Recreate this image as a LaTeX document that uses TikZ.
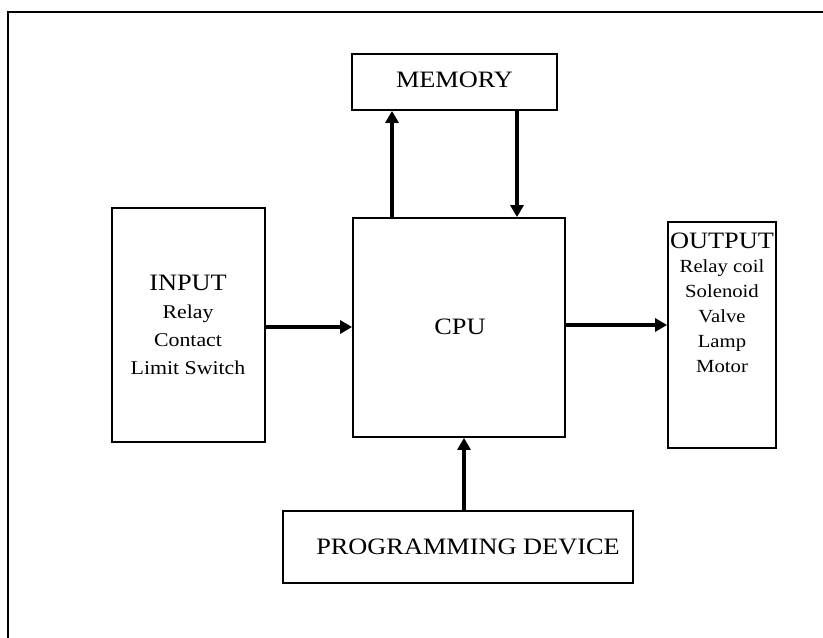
\documentclass[tikz,border=0pt]{standalone}
\usepackage{fontspec}
\setmainfont{Liberation Serif}[FakeStretch=1.12]
\usetikzlibrary{arrows.meta}
\begin{document}
\begin{tikzpicture}[x=1pt,y=-1pt,
  blk/.style={draw=black,line width=1.8pt,inner sep=0pt,fill=white},
  conn/.style={line width=3.5pt,-{Triangle[length=12pt,width=13pt]}},
  big/.style={font=\fontsize{23.5}{28}\selectfont},
  sub/.style={align=center,anchor=north}]
\useasboundingbox (0,0) rectangle (823,638);
\draw[line width=2pt] (823,12) -- (8,12) -- (8,638);
% boxes
\node[blk,minimum width=205pt,minimum height=56pt] (mem) at (454.5,82) {};
\node[big] (memt) at (454.5,80) {MEMORY};
\node[blk,minimum width=212pt,minimum height=219pt] (cpu) at (459,327.5) {};
\node[big] (cput) at (460,327) {CPU};
\node[blk,minimum width=153pt,minimum height=234pt] (inp) at (188.5,325) {};
\node[big] (inpt) at (188,283) {INPUT};
\node[sub,font=\fontsize{19.5}{28}\selectfont] (inps) at (188,301) {Relay\\Contact\\Limit Switch};
\node[blk,minimum width=108pt,minimum height=226pt] (out) at (722,335) {};
\node[big] (outt) at (722,241) {OUTPUT};
\node[sub,font=\fontsize{18.5}{25}\selectfont] (outs) at (722,256) {Relay coil\\Solenoid\\Valve\\Lamp\\Motor};
\node[blk,minimum width=350pt,minimum height=72pt] (prog) at (458,547) {};
\node[big] (progt) at (468,547) {PROGRAMMING DEVICE};
% connectors
\draw[conn] (cpu.north -| 392,0) -- (mem.south -| 392,0);
\draw[conn] (mem.south -| 517,0) -- (cpu.north -| 517,0);
\draw[conn] (inp.east |- 0,327) -- (cpu.west |- 0,327);
\draw[conn] (cpu.east |- 0,325) -- (out.west |- 0,325);
\draw[conn] (prog.north -| 464,0) -- (cpu.south -| 464,0);
\end{tikzpicture}
\end{document}
